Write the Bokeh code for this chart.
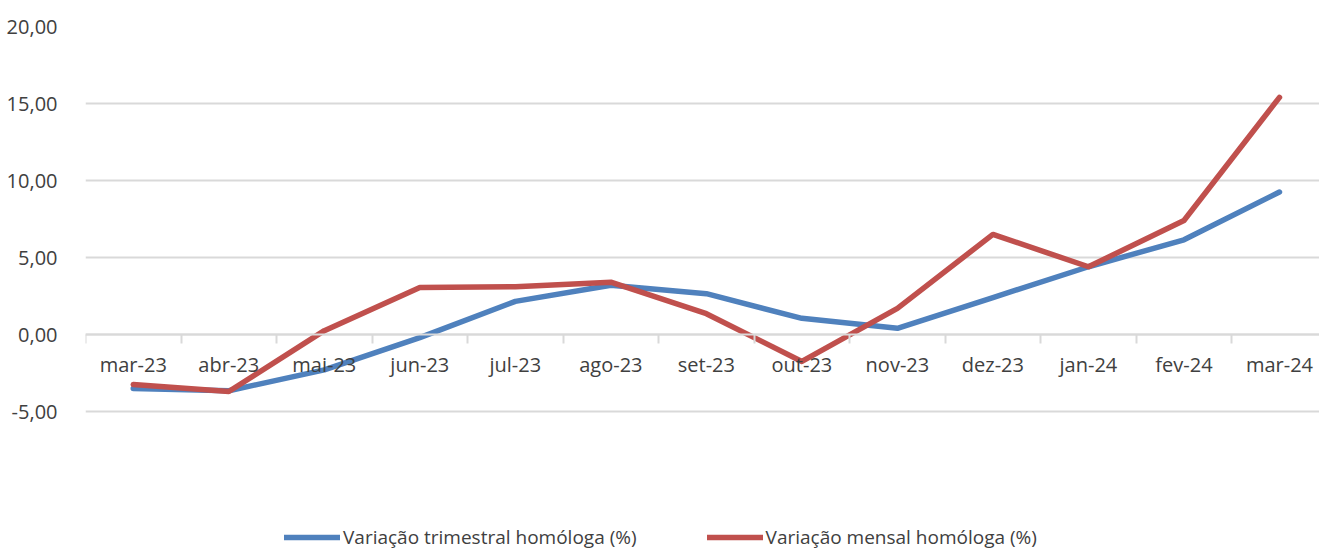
from bokeh.plotting import figure
from bokeh.models import FixedTicker, LinearAxis, Legend, LegendItem, Range1d, Grid
from bokeh.embed import file_html
from bokeh.resources import INLINE

categories = ["mar-23", "abr-23", "mai-23", "jun-23", "jul-23", "ago-23", "set-23",
              "out-23", "nov-23", "dez-23", "jan-24", "fev-24", "mar-24"]
trimestral = [-3.5, -3.65, -2.3, -0.2, 2.15, 3.2, 2.65, 1.05, 0.4, 2.4, 4.4, 6.15, 9.25]
mensal = [-3.25, -3.7, 0.25, 3.05, 3.1, 3.4, 1.35, -1.75, 1.7, 6.5, 4.4, 7.4, 15.4]
y_ticks = [-5, 0, 5, 10, 15, 20]
y_tick_labels = ["-5,00", "0,00", "5,00", "10,00", "15,00", "20,00"]
series_names = ["Variação trimestral homóloga (%)", "Variação mensal homóloga (%)"]
colors = ["#4F81BD", "#C0504D"]

FONT = "Open Sans"
TEXT = "#404040"
GRID = "#D9D9D9"

xs = list(range(len(categories)))

p = figure(width=1319, height=549, output_backend="svg", toolbar_location=None,
           x_axis_type=None, y_axis_type=None,
           x_range=Range1d(-0.5, 12.419), y_range=Range1d(-13.96, 20),
           min_border_left=85, min_border_right=0, min_border_top=26, min_border_bottom=0)
p.outline_line_color = None
p.background_fill_color = "white"
p.border_fill_color = "white"

# y axis
yaxis = LinearAxis(ticker=FixedTicker(ticks=y_ticks),
                   major_label_overrides={t: l for t, l in zip(y_ticks, y_tick_labels)})
yaxis.axis_line_color = None
yaxis.major_tick_line_color = None
yaxis.minor_tick_line_color = None
yaxis.major_label_standoff = 22
yaxis.major_label_text_font = FONT
yaxis.major_label_text_font_size = "20px"
yaxis.major_label_text_color = TEXT
p.add_layout(yaxis, "left")

# x axis crossing at 0
bounds = [i - 0.5 for i in range(len(categories) + 1)]
xaxis = LinearAxis(ticker=FixedTicker(ticks=xs, minor_ticks=bounds),
                   major_label_overrides={i: c for i, c in zip(xs, categories)},
                   fixed_location=0)
xaxis.axis_line_color = GRID
xaxis.axis_line_width = 2
xaxis.major_tick_line_color = None
xaxis.minor_tick_line_color = GRID
xaxis.minor_tick_line_width = 2
xaxis.minor_tick_in = 0
xaxis.minor_tick_out = 9
xaxis.major_tick_in = 0
xaxis.major_tick_out = 0
xaxis.major_label_standoff = 7
xaxis.major_label_text_font = FONT
xaxis.major_label_text_font_size = "20px"
xaxis.major_label_text_color = TEXT
p.add_layout(xaxis, "below")

grid = Grid(dimension=1, ticker=FixedTicker(ticks=y_ticks), grid_line_color=GRID, grid_line_width=2)
p.add_layout(grid)

r1 = p.line(xs, trimestral, line_color=colors[0], line_width=5.5, line_cap="round", line_join="round")
r2 = p.line(xs, mensal, line_color=colors[1], line_width=5.5, line_cap="round", line_join="round")

legend = Legend(items=[LegendItem(label=series_names[0], renderers=[r1]),
                       LegendItem(label=series_names[1], renderers=[r2])],
                location=(199, -1), orientation="horizontal")
legend.padding = 0
legend.margin = 0
legend.spacing = 70
legend.glyph_width = 56
legend.glyph_height = 20
legend.label_height = 20
legend.label_standoff = 3
legend.border_line_color = None
legend.background_fill_alpha = 0
legend.label_text_font = FONT
legend.label_text_font_size = "19px"
legend.label_text_color = TEXT
p.add_layout(legend, "center")

open("out.html", "w").write(file_html(p, INLINE))
